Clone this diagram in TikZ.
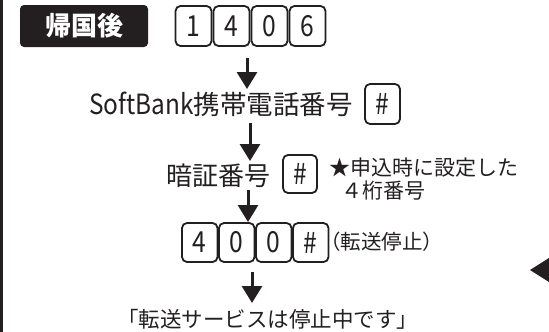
\documentclass[tikz,border=0pt]{standalone}
\usepackage{fontspec}
\setmainfont{Noto Sans CJK JP}
\usetikzlibrary{arrows.meta}
\definecolor{ink}{RGB}{35,31,32}
\newcommand{\keyglyph}[1]{\scalebox{0.85}[1]{#1}}
\tikzset{
  keybox/.style={draw=ink, line width=1.8pt, rounded corners=5pt, inner sep=0pt,
    minimum width=36pt, minimum height=40pt, font=\fontsize{29}{29}\selectfont, text=ink},
  arr/.style={draw=ink, line width=3pt, -{Triangle[width=20pt,length=17pt]}},
  lbl/.style={inner sep=0pt, text=ink},
}
\begin{document}
\begin{tikzpicture}[x=1pt,y=-1pt]
\useasboundingbox (0,0) rectangle (549,332);
% left border and right marker
\draw[ink, line width=3pt] (1.5,0) -- (1.5,332);
\fill[ink] (530,270) -- (549,258) -- (549,282) -- cycle;
% header
\node[fill=ink, rounded corners=4pt, minimum width=128pt, minimum height=42pt, inner sep=0pt,
  text=white, font=\fontsize{26}{26}\selectfont\bfseries] (head) at (84,26) {帰国後};
% row 1 keys
\node[keybox] (k1) at (193.5,26) {\keyglyph{1}};
\node[keybox] (k2) at (231.5,26) {\keyglyph{4}};
\node[keybox] (k3) at (269.5,26) {\keyglyph{0}};
\node[keybox] (k4) at (307.5,26) {\keyglyph{6}};
% row 2
\node[lbl, anchor=west, font=\fontsize{26.5}{26.5}\selectfont] (sb) at (89,104) {\scalebox{0.92}[1.05]{SoftBank}携帯電話番号};
\node[keybox, minimum width=35pt, minimum height=40pt] (h1) at (382.5,104) {\keyglyph{\#}};
% row 3
\node[lbl, anchor=west, font=\fontsize{26}{26}\selectfont] (pin) at (166,176) {暗証番号};
\node[keybox, minimum width=34pt, minimum height=38pt] (h2) at (300,174) {\keyglyph{\#}};
\node[lbl, anchor=west, font=\fontsize{21}{21}\selectfont] (note1) at (329,168) {★申込時に設定した};
\node[lbl, anchor=west, font=\fontsize{21}{21}\selectfont] (note2) at (341,191) {４桁番号};
% row 4 keys
\node[keybox, minimum width=35.5pt, minimum height=39pt] (m1) at (199.75,242.5) {\keyglyph{4}};
\node[keybox, minimum width=35.5pt, minimum height=39pt] (m2) at (236.75,242.5) {\keyglyph{0}};
\node[keybox, minimum width=35.5pt, minimum height=39pt] (m3) at (273.75,242.5) {\keyglyph{0}};
\node[keybox, minimum width=35.5pt, minimum height=39pt] (m4) at (310.75,242.5) {\keyglyph{\#}};
\node[lbl, anchor=west, font=\fontsize{20.5}{20.5}\selectfont] (stop) at (320,242) {（転送停止）};
% result
\node[lbl, anchor=west, font=\fontsize{21.5}{21.5}\selectfont] (res) at (117,319) {「転送サービスは停止中です」};
% arrow endpoints
\coordinate (a1s) at (247,58);  \coordinate (a1e) at (247,89);
\coordinate (a2s) at (250,123); \coordinate (a2e) at (250,161);
\coordinate (a3s) at (248,190); \coordinate (a3e) at (248,222);
\coordinate (a4s) at (252,272); \coordinate (a4e) at (252,303);
\draw[arr] (a1s) -- (a1e);
\draw[arr] (a2s) -- (a2e);
\draw[arr] (a3s) -- (a3e);
\draw[arr] (a4s) -- (a4e);
\end{tikzpicture}
\end{document}
